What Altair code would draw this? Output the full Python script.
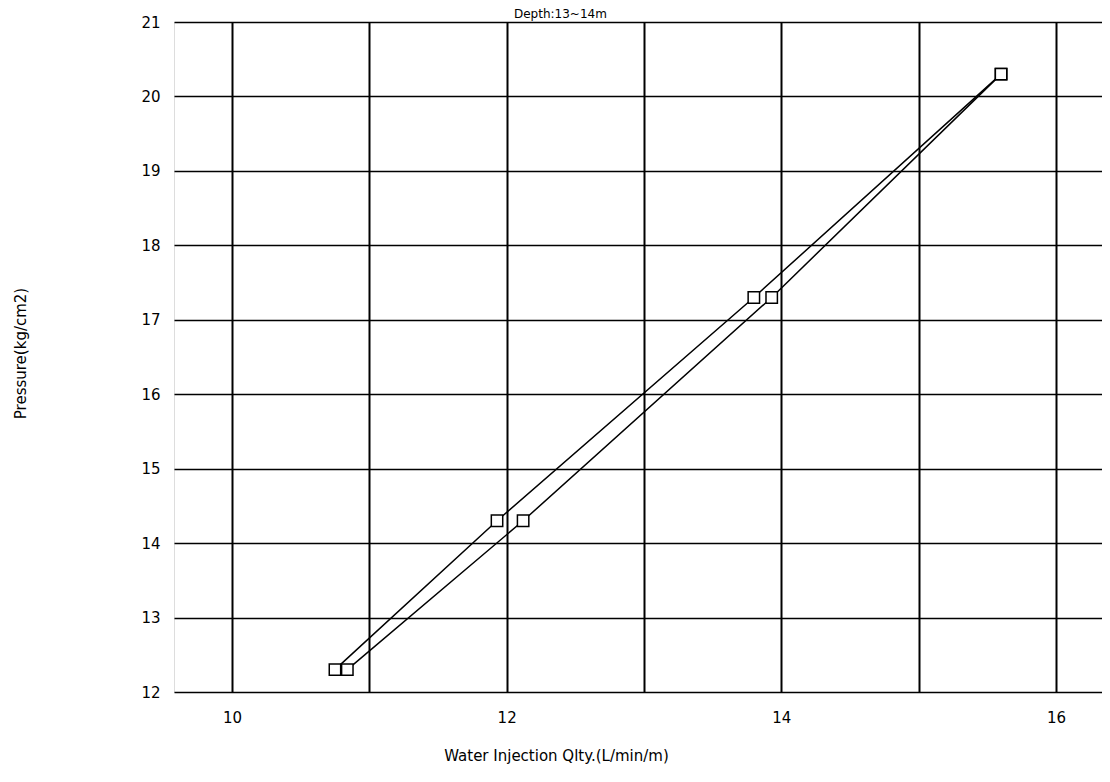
import altair as alt
import pandas as pd

# Loading branch (left) and unloading branch (right)
load_x = [10.75, 11.93, 13.80, 15.60]
load_y = [12.3, 14.3, 17.3, 20.3]
unload_x = [10.84, 12.12, 13.93, 15.60]
unload_y = [12.3, 14.3, 17.3, 20.3]

x_ticks = [10, 11, 12, 13, 14, 15, 16]
y_ticks = [12, 13, 14, 15, 16, 17, 18, 19, 20, 21]

title_text = "Depth:13~14m"
x_title = "Water Injection Qlty.(L/min/m)"
y_title = "Pressure(kg/cm2)"

rows = []
for i, (x, y) in enumerate(zip(load_x, load_y)):
    rows.append({"series": "load", "order": i, "q": x, "p": y})
for i, (x, y) in enumerate(zip(unload_x, unload_y)):
    rows.append({"series": "unload", "order": i, "q": x, "p": y})
df = pd.DataFrame(rows)

FONT = "DejaVu Sans"

xscale = alt.Scale(domain=[9.578, 16.335], nice=False, zero=False)
yscale = alt.Scale(domain=[12, 21], nice=False, zero=False)

xaxis = alt.Axis(
    values=x_ticks,
    format="d",
    labelExpr="datum.value % 2 == 0 ? datum.label : ''",
    grid=True, gridColor="black", gridWidth=2, gridOpacity=1,
    ticks=False, domain=False,
    labelFont=FONT, labelFontSize=15, labelColor="black", labelPadding=18,
    title=x_title, titleFont=FONT, titleFontSize=15, titleFontWeight="normal",
    titleColor="black", titleX=382, titleY=56, titleAlign="center",
    titleBaseline="top",
)
yaxis = alt.Axis(
    values=y_ticks,
    format="d",
    grid=True, gridColor="black", gridWidth=1.5, gridOpacity=1,
    ticks=False, domain=False,
    labelFont=FONT, labelFontSize=15, labelColor="black", labelPadding=14,
    title=y_title, titleFont=FONT, titleFontSize=15, titleFontWeight="normal",
    titleColor="black", titleX=-154, titleY=331, titleAngle=270,
    titleAlign="center", titleBaseline="middle",
)

base = alt.Chart(df)

lines = base.mark_line(color="black", strokeWidth=1.5).encode(
    x=alt.X("q:Q", scale=xscale, axis=xaxis),
    y=alt.Y("p:Q", scale=yscale, axis=yaxis),
    detail="series:N",
    order="order:Q",
)

points = base.mark_point(
    shape="square", size=130, filled=True, fill="white",
    stroke="black", strokeWidth=1.5, opacity=1,
).encode(
    x=alt.X("q:Q", scale=xscale),
    y=alt.Y("p:Q", scale=yscale),
)

title_df = pd.DataFrame({"t": [title_text]})
title = alt.Chart(title_df).mark_text(
    font=FONT, fontSize=12, color="black", align="left", baseline="top",
).encode(
    text="t:N",
    x=alt.value(340),
    y=alt.value(-13),
)

chart = alt.layer(lines, points, title).properties(
    width=928, height=670,
    padding={"left": 166, "top": 14, "right": 0, "bottom": 74},
    autosize=alt.AutoSizeParams(type="none"),
).configure_view(
    stroke="black", strokeWidth=2,
).configure(background="white")

chart.save("out.html", embed_options={"renderer": "svg", "actions": False})
